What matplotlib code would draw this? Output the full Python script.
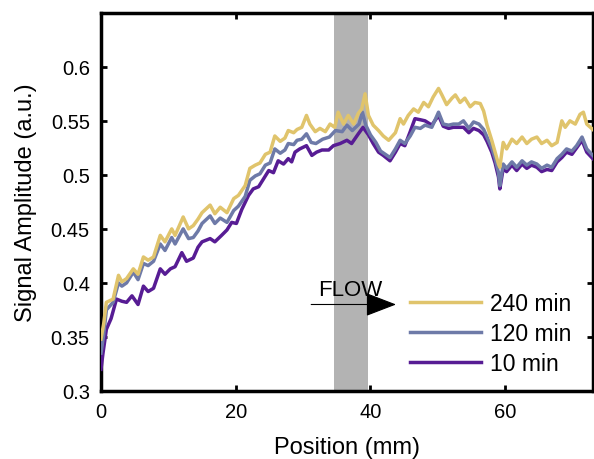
import matplotlib
matplotlib.use("Agg")
import matplotlib.pyplot as plt
from matplotlib import ticker

plt.rcParams["font.family"] = ["Liberation Sans", "DejaVu Sans"]

# ---------------------------------------------------------------------------
# Data
# ---------------------------------------------------------------------------

x_240 = [0, 0.4, 0.8, 1.8, 2.6, 3.1, 3.8, 4.8, 5.5, 6.3, 7.0, 7.8, 8.8, 9.5,
         10.5, 11.0, 12.2, 13.0, 13.7, 14.4, 15.0, 16.2, 16.9, 17.7, 18.7,
         19.7, 20.4, 21.4, 22.1, 22.9, 23.6, 24.4, 25.1, 25.8, 26.6, 27.3,
         27.8, 28.6, 29.1, 29.8, 30.5, 31.0, 31.8, 32.5, 33.3, 34.0, 34.7,
         35.2, 36.0, 36.7, 37.5, 38.2, 38.7, 39.2, 39.7, 40.4, 41.2, 41.9,
         42.7, 43.7, 44.4, 44.9, 45.6, 46.4, 47.1, 47.9, 48.6, 49.3, 50.1,
         50.6, 51.3, 52.1, 52.6, 53.3, 54.0, 54.8, 55.5, 56.3, 56.8, 57.3,
         58.0, 58.5, 59.0, 59.2, 59.7, 60.2, 61.0, 61.7, 62.5, 63.2, 63.9,
         64.7, 65.4, 66.2, 66.9, 67.7, 68.4, 68.9, 69.6, 70.4, 71.1, 71.6,
         72.1, 73.0]
y_240 = [0.348, 0.362, 0.382, 0.385, 0.407, 0.401, 0.404, 0.413, 0.408,
         0.424, 0.421, 0.424, 0.444, 0.438, 0.450, 0.444, 0.461, 0.450,
         0.453, 0.459, 0.465, 0.472, 0.464, 0.470, 0.465, 0.478, 0.481,
         0.490, 0.506, 0.509, 0.511, 0.519, 0.521, 0.536, 0.531, 0.534,
         0.541, 0.539, 0.542, 0.544, 0.555, 0.547, 0.540, 0.543, 0.540,
         0.547, 0.544, 0.558, 0.547, 0.555, 0.547, 0.557, 0.561, 0.575,
         0.555, 0.546, 0.541, 0.536, 0.532, 0.539, 0.552, 0.547, 0.555,
         0.561, 0.558, 0.567, 0.563, 0.572, 0.580, 0.574, 0.565, 0.571,
         0.574, 0.567, 0.571, 0.563, 0.567, 0.566, 0.559, 0.546, 0.532,
         0.521, 0.510, 0.507, 0.530, 0.524, 0.533, 0.529, 0.535, 0.529,
         0.533, 0.535, 0.529, 0.532, 0.527, 0.530, 0.550, 0.544, 0.550,
         0.547, 0.556, 0.558, 0.547, 0.542]

x_120 = [0, 0.4, 0.8, 1.8, 2.6, 3.1, 3.8, 4.8, 5.5, 6.3, 7.0, 7.8, 8.8, 9.5,
         10.5, 11.0, 12.2, 13.0, 13.7, 14.4, 15.0, 16.2, 16.9, 17.7, 18.7,
         19.7, 20.4, 21.4, 22.1, 22.9, 23.6, 24.4, 25.1, 25.8, 26.6, 27.3,
         27.8, 28.6, 29.1, 29.8, 30.5, 31.2, 31.9, 32.9, 33.9, 34.8, 35.8,
         36.5, 37.3, 38.3, 38.8, 39.3, 40.0, 40.8, 41.5, 42.2, 42.9, 43.7,
         44.4, 45.1, 45.9, 46.6, 47.4, 48.1, 49.1, 50.1, 50.8, 51.6, 52.3,
         53.1, 53.8, 54.6, 55.3, 56.1, 56.8, 57.3, 58.0, 58.5, 59.0, 59.2,
         59.7, 60.2, 61.0, 61.7, 62.5, 63.2, 63.9, 64.7, 65.4, 66.2, 66.9,
         67.7, 68.4, 69.1, 69.9, 70.6, 71.4, 72.1, 73.0]
y_120 = [0.335, 0.352, 0.375, 0.382, 0.400, 0.397, 0.400, 0.410, 0.403,
         0.418, 0.416, 0.420, 0.436, 0.430, 0.442, 0.436, 0.450, 0.441,
         0.442, 0.448, 0.455, 0.462, 0.455, 0.460, 0.456, 0.467, 0.471,
         0.480, 0.495, 0.499, 0.501, 0.509, 0.511, 0.524, 0.520, 0.523,
         0.529, 0.528, 0.532, 0.533, 0.538, 0.530, 0.529, 0.533, 0.535,
         0.541, 0.540, 0.546, 0.541, 0.547, 0.558, 0.546, 0.537, 0.530,
         0.522, 0.519, 0.516, 0.524, 0.532, 0.529, 0.536, 0.544, 0.543,
         0.546, 0.544, 0.558, 0.547, 0.546, 0.547, 0.547, 0.550, 0.543,
         0.549, 0.547, 0.542, 0.535, 0.525, 0.515, 0.502, 0.490, 0.510,
         0.506, 0.512, 0.507, 0.513, 0.509, 0.512, 0.510, 0.506, 0.509,
         0.507, 0.515, 0.519, 0.524, 0.522, 0.527, 0.535, 0.524, 0.518]

x_10 = [0, 0.3, 0.8, 1.5, 2.3, 3.1, 3.8, 4.6, 5.5, 6.3, 7.0, 7.8, 8.8, 9.5,
        10.3, 11.0, 12.0, 12.7, 13.7, 14.4, 15.0, 16.2, 16.9, 17.9, 18.7,
        19.4, 20.1, 20.9, 21.9, 22.6, 23.4, 24.1, 24.9, 25.6, 26.3, 27.1,
        27.8, 28.3, 28.8, 29.5, 30.5, 31.3, 32.0, 32.8, 33.8, 34.5, 35.5,
        36.5, 37.2, 38.2, 38.9, 39.7, 40.4, 41.2, 41.9, 42.9, 43.7, 44.4,
        45.1, 45.9, 46.6, 47.4, 48.1, 49.1, 50.1, 50.8, 51.6, 52.3, 53.1,
        53.8, 54.6, 55.3, 56.1, 56.8, 57.3, 58.0, 58.5, 59.0, 59.2, 59.7,
        60.2, 61.0, 61.7, 62.5, 63.2, 63.9, 64.7, 65.4, 66.2, 66.9, 67.7,
        68.4, 69.1, 69.9, 70.6, 71.4, 72.1, 73.0]
y_10 = [0.320, 0.335, 0.357, 0.367, 0.385, 0.383, 0.382, 0.388, 0.380,
        0.397, 0.392, 0.395, 0.413, 0.408, 0.413, 0.415, 0.428, 0.420,
        0.423, 0.433, 0.438, 0.441, 0.438, 0.444, 0.449, 0.456, 0.455,
        0.468, 0.481, 0.487, 0.489, 0.496, 0.504, 0.502, 0.513, 0.510,
        0.515, 0.512, 0.521, 0.524, 0.527, 0.518, 0.521, 0.523, 0.523,
        0.527, 0.529, 0.532, 0.529, 0.538, 0.544, 0.537, 0.529, 0.521,
        0.518, 0.513, 0.521, 0.529, 0.527, 0.540, 0.552, 0.551, 0.550,
        0.546, 0.555, 0.545, 0.543, 0.544, 0.544, 0.544, 0.539, 0.543,
        0.541, 0.537, 0.531, 0.521, 0.511, 0.498, 0.487, 0.506, 0.503,
        0.509, 0.504, 0.510, 0.506, 0.509, 0.507, 0.503, 0.505, 0.504,
        0.512, 0.516, 0.521, 0.519, 0.525, 0.532, 0.521, 0.515]

BAND = (34.6, 39.6)
labels = ["240 min", "120 min", "10 min"]
colors = ["#E0C46C", "#6E7AA8", "#571C94"]

# ---------------------------------------------------------------------------
# Plot
# ---------------------------------------------------------------------------

fig = plt.figure(figsize=(5.94, 4.6), dpi=100)
ax = fig.add_axes([0.170, 0.148, 0.828, 0.822])

ax.axvspan(BAND[0], BAND[1], color="#B3B3B3", lw=0, zorder=1)

l10, = ax.plot(x_10, y_10, color=colors[2], lw=2.5, zorder=3)
l120, = ax.plot(x_120, y_120, color=colors[1], lw=2.5, zorder=4)
l240, = ax.plot(x_240, y_240, color=colors[0], lw=2.5, zorder=5)

# flow arrow
ax.annotate("", xy=(43.8, 0.380), xytext=(31.2, 0.380),
            arrowprops=dict(arrowstyle="-|>,head_length=0.65,head_width=0.25",
                            color="black", lw=0.8, mutation_scale=30,
                            shrinkA=0, shrinkB=0),
            zorder=6)
ax.text(32.2, 0.389, "FLOW", fontsize=16, ha="left", va="baseline", zorder=6)

ax.set_xlim(0, 73)
ax.set_ylim(0.3, 0.65)
ax.set_xticks([0, 20, 40, 60])
ax.set_yticks([0.3, 0.35, 0.4, 0.45, 0.5, 0.55, 0.6])
ax.yaxis.set_major_formatter(ticker.FormatStrFormatter("%g"))
ax.tick_params(direction="in", length=4, width=2, labelsize=14.5,
               top=True, right=True, pad=8)
for s in ax.spines.values():
    s.set_linewidth(2.5)

ax.set_xlabel("Position (mm)", fontsize=17, labelpad=11)
ax.set_ylabel("Signal Amplitude (a.u.)", fontsize=17, labelpad=10)

ax.legend(handles=[l240, l120, l10], labels=labels, loc="upper left",
          bbox_to_anchor=(0.628, 0.262), frameon=False, fontsize=16.5,
          handlelength=3.1, handletextpad=0.4, labelspacing=0.3,
          borderpad=0, borderaxespad=0)

fig.savefig("out.png", dpi=100)
